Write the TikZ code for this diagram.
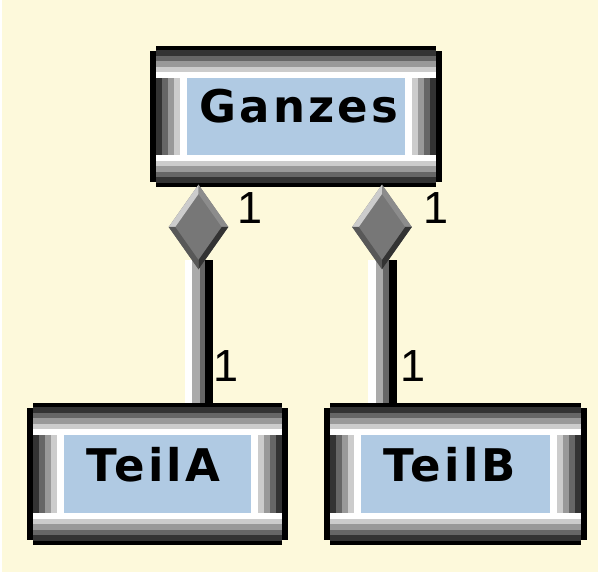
\documentclass[tikz,border=0pt]{standalone}
\usepackage{fontspec}
\usepackage{tikz}
\usetikzlibrary{calc,shapes.geometric}
\newfontfamily\classfont[LetterSpace=7]{DejaVu Sans}
\newfontfamily\multfont{Liberation Sans}
\definecolor{cream}{HTML}{FDF9DB}
\definecolor{classblue}{HTML}{B0CAE3}
\definecolor{g33}{HTML}{333333}
\definecolor{g55}{HTML}{585858}
\definecolor{g66}{HTML}{666666}
\definecolor{g77}{HTML}{777777}
\definecolor{g88}{HTML}{8C8C8C}
\definecolor{g99}{HTML}{999999}
\definecolor{gaa}{HTML}{AAAAAA}
\definecolor{gcc}{HTML}{CCCCCC}

% raised frame round a class node: black rim, four grey bands, white, blue field
\newcommand{\bevelframe}[1]{%
  \fill[black] ($(#1.south west)+(6,0)$) rectangle ($(#1.north east)+(-6,0)$);
  \fill[black] ($(#1.south west)+(0,5)$) rectangle ($(#1.north east)+(0,-5)$);
  \foreach \c [count=\k from 0] in {g33,g66,g99,gcc,white}
    \fill[\c] ($(#1.south west)+(6,4.5+5.5*\k)$) rectangle ($(#1.north east)+(-6,-4.5-5.5*\k)$);
  \foreach \c [count=\k from 0] in {g33,g66,g99,gcc,white}
    \fill[\c] ($(#1.south west)+(6+6*\k,32.5)$) rectangle ($(#1.north east)+(-6-6*\k,-32.5)$);
  \fill[classblue] ($(#1.south west)+(37,32.5)$) rectangle ($(#1.north east)+(-37,-32.5)$);
}
% bevelled aggregation diamond
\newcommand{\bevelgem}[1]{%
  \fill[g77] (#1.north) -- (#1.east) -- (#1.south) -- (#1.west) -- cycle;
  \foreach \a/\b/\c in {north/west/gcc,north/east/g88,south/west/g55,south/east/g33}
    \fill[\c] (#1.\a) -- (#1.\b) -- ($(#1.center)!.78!(#1.\b)$) -- ($(#1.center)!.78!(#1.\a)$) -- cycle;
}

\begin{document}
\begin{tikzpicture}[x=0.025cm,y=0.025cm,
  classbox/.style={rectangle,inner sep=0pt,minimum height=3.55cm},
  classname/.style={anchor=base,inner sep=0pt,font=\classfont\bfseries\fontsize{32}{36}\selectfont},
  mult/.style={inner sep=0pt,font=\multfont\fontsize{32}{36}\selectfont},
  aggdiamond/.style={diamond,inner sep=0pt,minimum width=1.475cm,minimum height=2.1cm}]
\useasboundingbox (0,0) rectangle (600,574);
\fill[white] (0,0) rectangle (600,574);
\fill[cream] (2,2) rectangle (598,574);

% the whole
\node[classbox,minimum width=7.3cm,minimum height=3.525cm] (ganzes) at (296,457.5) {};
\bevelframe{ganzes}
\node[classname] (ganzes-name) at ($(ganzes.center)+(3,-6.5)$) {Ganzes};

% the parts and their diamonds
\node[classbox,minimum width=6.525cm] (teila) at (157.5,100) {};
\node[classbox,minimum width=6.575cm] (teilb) at (455.5,100) {};
\node[aggdiamond] (dA) at (198.5,347) {};
\node[aggdiamond] (dB) at (382,347) {};

% shafts: white, light, dark, black strips
\foreach \d/\p in {dA/teila,dB/teilb}
  \foreach \a/\b/\c in {-14/-6.5/white,-6.5/1/gaa,1/6.5/g66,6.5/14.5/black}
    \fill[\c] ($(\d.south)+(\a,9)$) rectangle ($(\p.north -| \d.south)+(\b,0)$);

\bevelgem{dA}
\bevelgem{dB}

\bevelframe{teila}
\node[classname] (teila-name) at ($(teila.center)+(-4,-7)$) {TeilA};
\bevelframe{teilb}
\node[classname] (teilb-name) at ($(teilb.center)+(-6,-7)$) {TeilB};

% multiplicities
\node[mult] (ma-top) at (250,365.5) {1};
\node[mult] (mb-top) at (436,365.5) {1};
\node[mult] (ma-bot) at (226,208) {1};
\node[mult] (mb-bot) at (413,208) {1};
\end{tikzpicture}
\end{document}
